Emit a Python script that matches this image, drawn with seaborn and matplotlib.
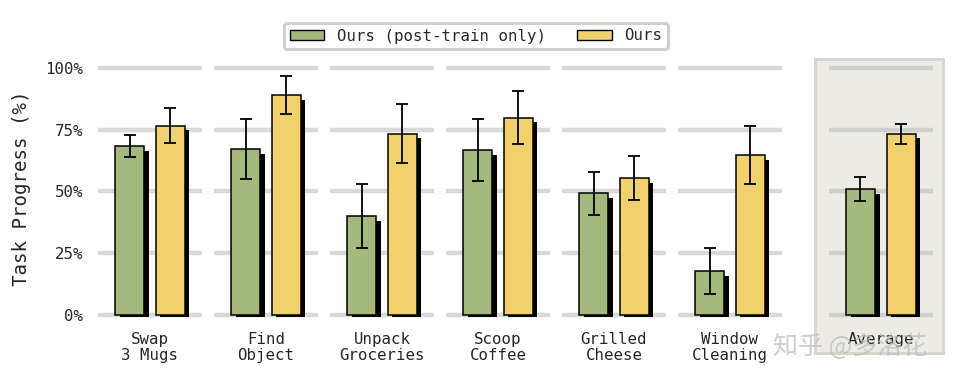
import numpy as np
import pandas as pd
import seaborn as sns
import matplotlib
matplotlib.use("Agg")
import matplotlib.pyplot as plt
from matplotlib.patches import Rectangle, Patch

# ---- data ----
categories = ["Swap\n3 Mugs", "Find\nObject", "Unpack\nGroceries", "Scoop\nCoffee",
              "Grilled\nCheese", "Window\nCleaning", "Average"]
positions = [0, 1, 2, 3, 4, 5, 6.3]
series = ["Ours (post-train only)", "Ours"]
post_train_vals = [68.3, 67.2, 40.1, 66.7, 49.3, 17.8, 51.0]
post_train_err = [4.5, 12.0, 13.0, 12.6, 8.7, 9.5, 4.7]
ours_vals = [76.6, 89.1, 73.4, 79.9, 55.5, 64.8, 73.4]
ours_err = [7.0, 7.6, 11.9, 10.6, 8.9, 11.9, 4.0]
yticks = [0, 25, 50, 75, 100]
ytick_labels = ["0%", "25%", "50%", "75%", "100%"]

colors = ["#a4b87e", "#f1d16b"]

sns.set_theme(style="white")
plt.rcParams["font.family"] = ["DejaVu Sans Mono", "Noto Sans CJK SC"]

df = pd.DataFrame({
    "pos": positions * 2,
    "value": post_train_vals + ours_vals,
    "series": [series[0]] * len(positions) + [series[1]] * len(positions),
})
errs = post_train_err + ours_err

fig = plt.figure(figsize=(9.64, 3.87), dpi=100)
ax = fig.add_axes([90 / 964, 0.167, 860 / 964, 0.6956])

sns.barplot(data=df, x="pos", y="value", hue="series", hue_order=series,
            palette=colors, saturation=1, native_scale=True, width=0.7, gap=0.286,
            edgecolor="black", linewidth=1.1, errorbar=None, legend=False,
            ax=ax, zorder=3)

# shadows + error bars derived from the drawn bars
bars = [p for p in ax.patches if isinstance(p, Rectangle)]
for p, e in zip(bars, errs):
    x, w, h = p.get_x(), p.get_width(), p.get_height()
    ax.add_patch(Rectangle((x + 0.04, -0.8), w, h - 1.1, facecolor="black",
                           edgecolor="none", zorder=2.5))
    ax.errorbar(x + w / 2, h, yerr=e, fmt="none", ecolor="black",
                elinewidth=1.3, capsize=4, capthick=1.3, zorder=4)

# segmented grid lines per group
for pos in positions:
    gc = "#cfcfcb" if pos == positions[-1] else "#d9d9d9"
    ax.hlines(yticks, pos - 0.45, pos + 0.45, colors=gc, linewidth=3.2, zorder=1)

# highlight box for average
ax.add_patch(Rectangle((5.733, -15.4), 1.103, 119.0, facecolor="#ecebe6",
                       edgecolor="#d6d5cf", linewidth=2.2, clip_on=False, zorder=0))

ax.set_xlim(-0.517, 6.897)
ax.set_ylim(-3, 106)
ax.set_xticks(positions)
ax.set_xticklabels(categories, fontsize=11.3, linespacing=1.05)
ax.set_yticks(yticks)
ax.set_yticklabels(ytick_labels, fontsize=11.3)
ax.tick_params(axis="both", length=0)
ax.tick_params(axis="x", pad=7)
ax.tick_params(axis="y", pad=5)
ax.set_xlabel("")
ax.set_ylabel("Task Progress (%)", fontsize=13.8, labelpad=10)
for s in ax.spines.values():
    s.set_visible(False)
ax.patch.set_alpha(0)

handles = [Patch(facecolor=colors[0], edgecolor="black", linewidth=1.0, label=series[0]),
           Patch(facecolor=colors[1], edgecolor="black", linewidth=1.0, label=series[1])]
leg = fig.legend(handles=handles, loc="center", bbox_to_anchor=(476 / 964, 1 - 36 / 387),
                 ncol=2, fontsize=11.3, frameon=True, handlelength=2.2, handleheight=0.65,
                 columnspacing=2.0, borderpad=0.35, handletextpad=0.8)
fr = leg.get_frame()
fr.set_edgecolor("#cfcfcf")
fr.set_linewidth(2.2)
fr.set_facecolor("white")
fr.set_alpha(1)

fig.text(850 / 964, 1 - 347 / 387, "知乎 @多洛花", fontsize=18, color="#bdbdbd", alpha=0.75,
         ha="center", va="center", family=["Noto Sans CJK SC", "DejaVu Sans"])

fig.savefig("out.png", dpi=100)
